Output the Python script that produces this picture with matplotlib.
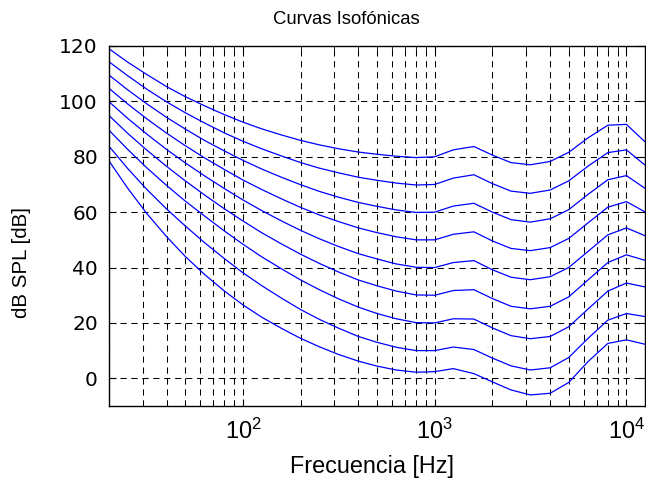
import numpy as np
import matplotlib
matplotlib.use("Agg")
import matplotlib.pyplot as plt

plt.rcParams['font.family'] = ['Liberation Sans', 'DejaVu Sans']

# frecuencias ISO 226 [Hz]
frecuencias = [20, 25, 31.5, 40, 50, 63, 80, 100, 125, 160, 200, 250, 315, 400,
               500, 630, 800, 1000, 1250, 1600, 2000, 2500, 3150, 4000, 5000,
               6300, 8000, 10000, 12500]

# umbral de audicion
umbral = [78.5, 68.7, 59.5, 51.1, 44.0, 37.5, 31.5, 26.5, 22.1, 17.9, 14.4, 11.4,
          8.6, 6.2, 4.4, 3.0, 2.2, 2.4, 3.5, 1.7, -1.3, -4.2, -6.0, -5.4, -1.5,
          6.0, 12.6, 13.9, 12.3]

fon10 = [83.8, 75.8, 68.2, 61.1, 55.0, 49.0, 43.2, 38.1, 33.5, 28.8, 24.8, 21.3,
         18.1, 15.1, 13.0, 11.2, 10.0, 10.0, 11.3, 10.4, 7.3, 4.5, 3.0, 3.8, 7.5,
         14.4, 21.0, 23.4, 22.3]
fon20 = [89.6, 82.7, 76.0, 69.6, 64.0, 58.6, 53.2, 48.4, 43.9, 39.4, 35.5, 32.0,
         28.7, 25.7, 23.4, 21.5, 20.1, 20.0, 21.5, 21.4, 18.2, 15.4, 14.3, 15.1,
         18.6, 25.0, 31.5, 34.4, 33.0]
fon30 = [94.9, 88.5, 82.4, 76.5, 71.3, 66.2, 61.2, 56.8, 52.6, 48.4, 44.8, 41.5,
         38.4, 35.5, 33.4, 31.5, 30.1, 30.0, 31.7, 32.0, 28.8, 26.0, 25.1, 26.0,
         29.4, 35.5, 41.8, 44.6, 42.6]
fon40 = [99.9, 93.9, 88.2, 82.6, 77.8, 73.1, 68.5, 64.4, 60.6, 56.7, 53.4, 50.4,
         47.6, 45.0, 43.1, 41.3, 40.1, 40.0, 41.8, 42.5, 39.2, 36.5, 35.6, 36.7,
         40.0, 45.8, 51.8, 54.3, 51.5]
fon50 = [104.7, 99.1, 93.7, 88.5, 84.0, 79.6, 75.4, 71.6, 68.2, 64.7, 61.7, 59.0,
         56.6, 54.3, 52.6, 51.1, 50.0, 50.0, 52.0, 52.9, 49.6, 46.9, 46.1, 47.2,
         50.5, 56.1, 61.8, 63.8, 60.1]
fon60 = [109.5, 104.2, 99.1, 94.2, 90.0, 85.9, 82.1, 78.7, 75.6, 72.5, 69.9, 67.5,
         65.4, 63.5, 62.1, 60.8, 59.9, 60.0, 62.2, 63.2, 60.0, 57.3, 56.4, 57.6,
         60.9, 66.4, 71.7, 73.2, 68.6]
fon70 = [114.3, 109.3, 104.4, 99.8, 95.9, 92.2, 88.6, 85.6, 82.9, 80.2, 77.9, 75.9,
         74.2, 72.6, 71.5, 70.5, 69.8, 70.0, 72.3, 73.5, 70.3, 67.6, 66.8, 68.0,
         71.3, 76.6, 81.5, 82.5, 77.0]
fon80 = [119.0, 114.2, 109.7, 105.3, 101.7, 98.4, 95.2, 92.5, 90.1, 87.8, 85.9, 84.3,
         82.9, 81.7, 80.9, 80.2, 79.7, 80.0, 82.5, 83.7, 80.6, 77.9, 77.1, 78.3,
         81.6, 86.8, 91.4, 91.7, 85.4]

curvas = [umbral, fon10, fon20, fon30, fon40, fon50, fon60, fon70, fon80]
yticks = [0, 20, 40, 60, 80, 100, 120]

fig = plt.figure(figsize=(6.46, 4.88), dpi=100)
ax = fig.add_axes([109 / 646, 82 / 488, 536 / 646, 360 / 488])

for c in curvas:
    ax.semilogx(frecuencias, c, color=(0, 0, 1), linewidth=0.9)

ax.set_xlim(20, 12500)
ax.set_ylim(-10, 120)
ax.set_yticks(yticks)

ax.grid(True, which='both', axis='x', color='black', linestyle=(0, (6, 4.5)), linewidth=0.75)
ax.grid(True, which='major', axis='y', color='black', linestyle=(0, (6, 4.5)), linewidth=0.75)
ax.tick_params(which='both', direction='in', top=True, right=True, colors='black')
ax.tick_params(axis='y', labelsize=14.5, pad=8)
ax.tick_params(axis='x', labelsize=17, pad=9)
ax.tick_params(which='major', length=5)
ax.tick_params(which='minor', length=3)
for lab in ax.get_yticklabels():
    lab.set_family('DejaVu Sans')
for s in ax.spines.values():
    s.set_linewidth(1.0)

fig.text(346 / 646, 1 - 19 / 488, 'Curvas Isofónicas', fontsize=13.3,
         ha='center', va='center')
ax.set_xlabel('Frecuencia [Hz]', fontsize=16.8, va='center')
ax.xaxis.set_label_coords((372 - 109) / 536, -(467 - 406) / 360)
ax.set_ylabel('dB SPL [dB]', fontsize=14.8, va='center')
ax.yaxis.set_label_coords((22 - 109) / 536, (406 - 262) / 360)

fig.savefig('out.png', dpi=100)
